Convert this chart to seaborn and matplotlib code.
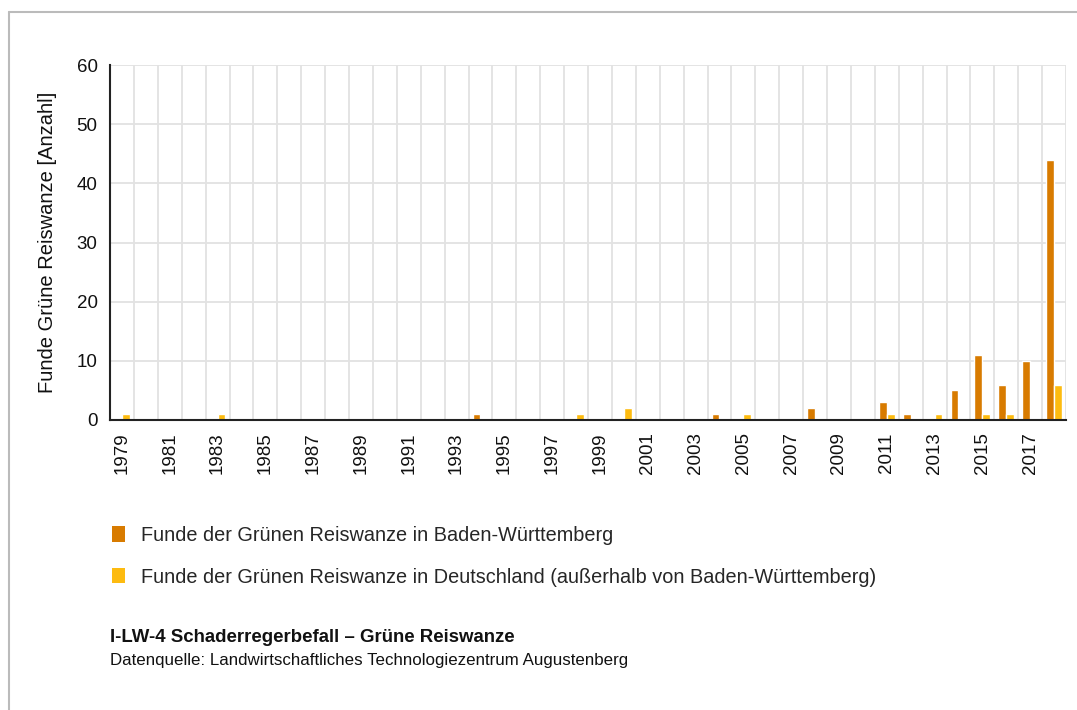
import matplotlib
matplotlib.use("Agg")
import matplotlib.pyplot as plt
from matplotlib.lines import Line2D
from matplotlib.patches import Patch
import seaborn as sns
import pandas as pd

years = list(range(1979, 2019))
bw_values = [0, 0, 0, 0, 0, 0, 0, 0, 0, 0,
             0, 0, 0, 0, 0, 1, 0, 0, 0, 0,
             0, 0, 0, 0, 0, 1, 0, 0, 0, 2,
             0, 0, 3, 1, 0, 5, 11, 6, 10, 44]
de_values = [1, 0, 0, 0, 1, 0, 0, 0, 0, 0,
             0, 0, 0, 0, 0, 0, 0, 0, 0, 1,
             0, 2, 0, 0, 0, 0, 1, 0, 0, 0,
             0, 0, 1, 0, 1, 0, 1, 1, 0, 6]
series_names = ["Funde der Grünen Reiswanze in Baden-Württemberg",
                "Funde der Grünen Reiswanze in Deutschland (außerhalb von Baden-Württemberg)"]
colors = ["#D87B00", "#FDBB10"]
y_label = "Funde Grüne Reiswanze [Anzahl]"
title = "I-LW-4 Schaderregerbefall – Grüne Reiswanze"
source = "Datenquelle: Landwirtschaftliches Technologiezentrum Augustenberg"

sns.set_theme(style="white")
plt.rcParams['font.family'] = ['Liberation Sans', 'DejaVu Sans']

df = pd.DataFrame({
    "Jahr": [str(y) for y in years] * 2,
    "Anzahl": bw_values + de_values,
    "Serie": [series_names[0]] * len(years) + [series_names[1]] * len(years),
})

fig = plt.figure(figsize=(10.77, 7.10), dpi=100)
ax = fig.add_axes([110 / 1077, 1 - 420 / 710, (1066 - 110) / 1077, (420 - 65) / 710])

sns.barplot(data=df, x="Jahr", y="Anzahl", hue="Serie", order=[str(y) for y in years],
            hue_order=series_names, palette=colors, width=0.66, gap=0,
            saturation=1, ax=ax, legend=False)

ax.set_xlim(-0.5, len(years) - 0.5)
ax.set_ylim(0, 60)
ax.set_yticks(range(0, 61, 10))
ax.set_xticks(range(0, len(years), 2))
ax.set_xticklabels([str(y) for y in years[::2]], rotation=90)
ax.set_xticks([i - 0.5 for i in range(len(years) + 1)], minor=True)
ax.grid(False)
ax.grid(True, which="minor", axis="x", color="#e2e2e2", linewidth=1.3)
ax.grid(True, which="major", axis="y", color="#e2e2e2", linewidth=1.3)
ax.set_axisbelow(True)
ax.tick_params(axis="both", which="both", length=0, labelsize=13.5, colors="#111111")
ax.tick_params(axis="y", pad=9)
ax.tick_params(axis="x", pad=9)
for s in ["top", "right"]:
    ax.spines[s].set_visible(False)
for s in ["left", "bottom"]:
    ax.spines[s].set_color("#222222")
    ax.spines[s].set_linewidth(1.5)
    ax.spines[s].set_zorder(5)
ax.set_xlabel("")
ax.set_ylabel(y_label, fontsize=14.5, color="#111111", labelpad=14)

handles = [Patch(facecolor=c, edgecolor="none") for c in colors]
fig.legend(handles, series_names, loc="upper left",
           bbox_to_anchor=(104 / 1077, 1 - 518 / 710), frameon=False,
           fontsize=14.3, handlelength=0.65, handleheight=0.8, handletextpad=0.8,
           labelspacing=1.15, borderaxespad=0)

fig.text(110 / 1077, 1 - 637 / 710, title, fontsize=13.4, fontweight="bold",
         va="center", ha="left", color="#111111")
fig.text(110 / 1077, 1 - 661 / 710, source, fontsize=12.2,
         va="center", ha="left", color="#111111")

fig.add_artist(Line2D([9 / 1077, 9 / 1077], [0, 1 - 12 / 710], color="#bbbbbb", linewidth=1.5,
                      transform=fig.transFigure))
fig.add_artist(Line2D([9 / 1077, 1], [1 - 12 / 710, 1 - 12 / 710], color="#bbbbbb", linewidth=1.5,
                      transform=fig.transFigure))

fig.savefig("out.png", dpi=100)
